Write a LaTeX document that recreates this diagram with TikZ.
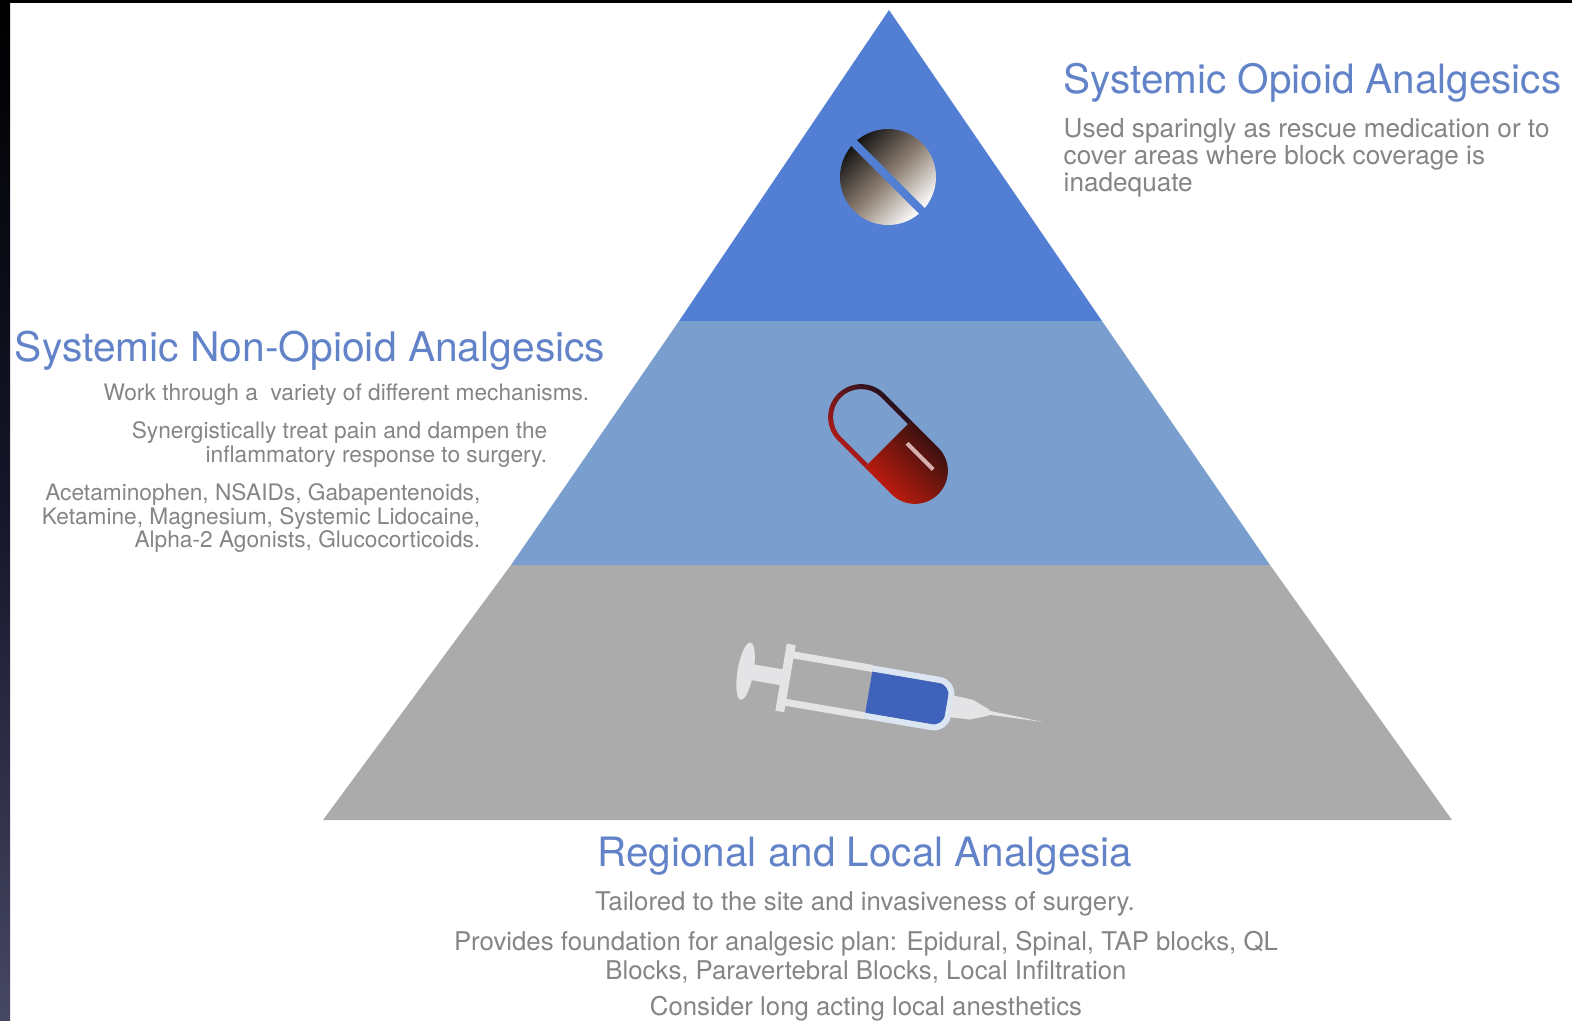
\documentclass[tikz,border=0pt]{standalone}
\usepackage{fontspec}
\setmainfont{TeX Gyre Heros}
\definecolor{topband}{HTML}{527FD4}
\definecolor{midband}{HTML}{7A9FCE}
\definecolor{lowband}{HTML}{ABABAB}
\definecolor{titleblue}{HTML}{6383C8}
\definecolor{bodygrey}{HTML}{858585}
\definecolor{syr}{HTML}{E4E4E6}
\definecolor{syrblue}{HTML}{3F63BB}
\definecolor{syredge}{HTML}{DCE6F3}
\definecolor{stripbot}{RGB}{70,71,98}
\definecolor{stripmid}{RGB}{22,22,42}
\definecolor{tabmid}{RGB}{140,125,112}
\definecolor{capdark}{RGB}{20,15,30}
\definecolor{capred}{RGB}{190,30,25}
\definecolor{capdarkb}{RGB}{40,15,15}
\definecolor{capredb}{RGB}{205,30,15}
\definecolor{caphi}{RGB}{215,175,175}
\tikzset{
  x=0.01cm,y=0.01cm,
  heading/.style={inner sep=0pt,text=titleblue,font=\fontsize{11.5}{13}\selectfont},
  widehead/.style={heading,font=\fontsize{11.6}{13}\selectfont},
  body/.style={inner sep=0pt,text=bodygrey,font=\fontsize{7.43}{7.7}\selectfont},
  smallbody/.style={inner sep=0pt,text=bodygrey,font=\fontsize{6.45}{6.7}\selectfont},
  lowbody/.style={inner sep=0pt,text=bodygrey,font=\fontsize{7.33}{8}\selectfont},
  band/.style={draw=none},
  px/.style={line width=#1*0.2845pt},
}
\begin{document}
\begin{tikzpicture}
\useasboundingbox (0,-1020) rectangle (1572,0);
\fill[white] (0,-1020) rectangle (1572,0);
\shade[top color=black,bottom color=stripbot,middle color=stripmid] (0,-1020) rectangle (10,0);
\fill[black] (0,-3) rectangle (1572,0);
% pyramid
\fill[band,lowband] (323,-820) -- (511,-565) -- (1270,-565) -- (1452,-820) -- cycle;
\fill[band,midband] (511,-565) -- (679,-321) -- (1102,-321) -- (1270,-565) -- cycle;
\fill[band,topband] (679,-321) -- (889,-10) -- (1102,-321) -- cycle;
% tablet
\shade[top color=black!92,bottom color=white,middle color=tabmid,shading angle=45] (888,-177) circle (48);
\draw[topband,px=8] (843,-132) -- (933,-222);
% capsule
\begin{scope}[shift={(888,-444)},rotate=-45]
  \shade[top color=capdark,bottom color=capred,shading angle=-45]
     (0,-33) -- (-38,-33) arc (270:90:33) -- (0,33) -- cycle;
  \fill[midband] (0,-28) -- (-38,-28) arc (270:90:28) -- (0,28) -- cycle;
  \shade[top color=capdarkb,bottom color=capredb,shading angle=-45]
     (0,-33) -- (38,-33) arc (-90:90:33) -- (0,33) -- cycle;
  \draw[caphi,px=4] (13,14) -- (50,14);
\end{scope}
% syringe
\begin{scope}[shift={(786,-678)},rotate=-9.7]
  \fill[syr] (-41,0) ellipse (8 and 29);
  \fill[syr] (-41,-8) rectangle (-4,8);
  \fill[syr] (-5,-34) rectangle (4,34);
  \fill[syrblue] (84,-21) rectangle (163,21);
  \draw[syr,px=7] (0,24) -- (84,24);
  \draw[syr,px=7] (0,-24) -- (84,-24);
  \draw[syredge,px=6,rounded corners=4] (84,24) -- (166,24) -- (166,-24) -- (84,-24);
  \fill[syr] (168,-11) -- (188,-10) -- (206,-3) -- (206,3) -- (188,10) -- (168,11) -- cycle;
  \fill[syr] (206,-2) -- (260,0) -- (206,2) -- cycle;
\end{scope}
% texts
\node[heading,anchor=base west] (t1) at (1063,-93) {Systemic Opioid Analgesics};
\node[body,anchor=north west,align=left] (b1) at (1063,-118) {Used sparingly as rescue medication or to\\cover areas where block coverage is\\inadequate};
\node[widehead,anchor=base east] (t2) at (606,-361) {Systemic Non-Opioid Analgesics};
\node[smallbody,anchor=north east,align=right] (b2) at (590,-383) {Work through a\ \ variety of different mechanisms.};
\node[smallbody,anchor=north east,align=right] (b3) at (548,-421) {Synergistically treat pain and dampen the\\inflammatory response to surgery.};
\node[smallbody,anchor=north east,align=right] (b4) at (481,-483) {Acetaminophen, NSAIDs, Gabapentenoids,\\Ketamine, Magnesium, Systemic Lidocaine,\\Alpha-2 Agonists, Glucocorticoids.};
\node[heading,anchor=base] (t3) at (865,-866) {Regional and Local Analgesia};
\node[lowbody,anchor=north] (b5) at (865,-891) {Tailored to the site and invasiveness of surgery.};
\node[lowbody,anchor=north,align=center] (b6) at (866,-931) {Provides foundation for analgesic plan: Epidural, Spinal, TAP blocks, QL\\Blocks, Paravertebral Blocks, Local Infiltration};
\node[lowbody,anchor=north] (b7) at (866,-996) {Consider long acting local anesthetics};
\end{tikzpicture}
\end{document}
